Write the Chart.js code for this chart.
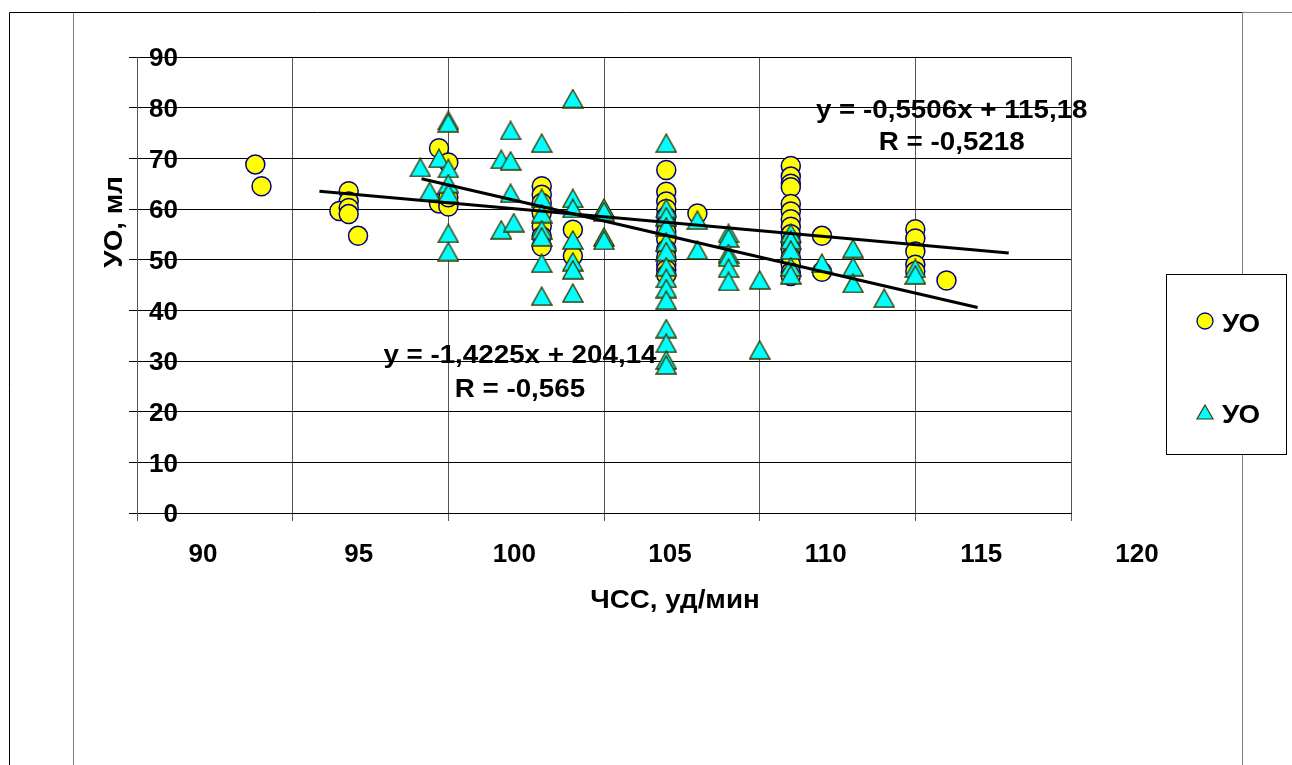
<!DOCTYPE html>
<html lang="ru">
<head>
<meta charset="utf-8">
<title>УО и ЧСС</title>
<script src="https://cdn.jsdelivr.net/npm/chart.js@4.4.1/dist/chart.umd.min.js"></script>
<style>
  html, body { margin: 0; padding: 0; background: #fff; }
  #wrap { width: 1292px; height: 765px; position: relative; }
</style>
</head>
<body>
<div id="wrap"><canvas id="svChart"></canvas></div>
<script>
// первая серия (кружки): ЧСС, уд/мин и УО, мл
const hrCircles = [
  91.8, 92.0,
  94.8, 94.8, 94.5, 94.8, 94.8, 95.1,
  97.7, 98.0, 97.7, 98.0, 98.0,
  101, 101, 101, 101, 101, 101, 101,
  102, 102,
  105, 105, 105, 105, 105, 105, 105, 105, 105, 105, 105, 105, 105,
  106,
  109, 109, 109, 109, 109, 109, 109, 109, 109, 109, 109, 109, 109, 109, 109,
  110, 110,
  113, 113, 113, 113, 113,
  114
];
const svCircles = [
  68.8, 64.5,
  63.5, 61.5, 59.6, 60.2, 59.0, 54.7,
  72.0, 69.2, 61.1, 60.5, 62.3,
  64.5, 62.8, 61.2, 59.2, 56.6, 54.6, 52.6,
  55.9, 50.7,
  67.7, 63.4, 61.5, 60.0, 58.5, 57.0, 55.5, 54.0, 52.0, 50.5, 49.0, 48.0, 47.0,
  59.1,
  68.5, 66.4, 65.0, 64.3, 61.0, 59.5, 58.0, 56.5, 55.0, 53.5, 52.0, 50.5, 49.0, 47.5, 46.8,
  54.7, 47.6,
  56.0, 54.2, 51.6, 49.0, 47.7,
  45.9
];

// вторая серия (треугольники)
const hrTriangles = [
  97.1, 97.7, 98, 98, 98, 98, 97.4, 98, 98, 98,
  99.7, 100, 100, 100, 99.7, 100.1,
  101, 101, 101, 101, 101, 101, 101,
  102, 102, 102, 102, 102, 102, 102,
  103, 103, 103, 103,
  105, 105, 105, 105, 105, 105, 105, 105, 105, 105, 105, 105, 105, 105,
  106, 106,
  107, 107, 107, 107, 107, 107,
  108, 108,
  109, 109, 109, 109, 109,
  110,
  111, 111, 111,
  112,
  113, 113
];
const svTriangles = [
  68.2, 70.0, 77.5, 77.0, 68.0, 65.0, 63.5, 63.1, 55.2, 51.6,
  69.8, 69.5, 75.5, 63.1, 55.9, 57.3,
  73.0, 62.1, 59.1, 55.9, 54.5, 49.3, 42.8,
  81.8, 62.1, 60.1, 53.9, 49.6, 48.0, 43.4,
  60.2, 59.5, 54.5, 53.8,
  73.0, 60.1, 58.5, 56.5, 53.5, 51.6, 48.6, 46.3, 44.3, 42.0, 36.4, 33.5, 30.2, 29.2,
  57.8, 51.9,
  55.2, 54.3, 51.2, 50.5, 48.3, 45.7,
  46.0, 32.2,
  55.2, 53.9, 51.9, 48.6, 47.0,
  49.3,
  52.2, 48.6, 45.3,
  42.4,
  48.3, 47.0
];

const seriesNames = ['УО', 'УО'];

// линейные тренды: y = k·x + b, отрезок по ЧСС
const trendSlopes = [-0.5506, -1.4225];
const trendIntercepts = [115.18, 204.14];
const trendFrom = [93.86, 97.14];
const trendTo = [116.0, 115.0];
const trendEquations = ['y = -0,5506x + 115,18', 'y = -1,4225x + 204,14'];
const trendR = ['R = -0,5218', 'R = -0,565'];

// оси
const xTickValues = [88, 93, 98, 103, 108, 113, 118];
const xTickLabels = ['90', '95', '100', '105', '110', '115', '120'];
const yMin = 0, yMax = 90, yStep = 10;

const FONT = '"Liberation Sans", Arial, sans-serif';

function toPoints(xs, ys) {
  return xs.map((x, i) => ({ x: x, y: ys[i] }));
}

function trendPoints(i) {
  return [trendFrom[i], trendTo[i]].map(x => ({ x: x, y: trendSlopes[i] * x + trendIntercepts[i] }));
}

// треугольный маркер в стиле Excel (центр по габариту)
function makeTriangle(w, h, lw) {
  const c = document.createElement('canvas');
  c.width = w + 2;
  c.height = h + 2;
  const g = c.getContext('2d');
  g.beginPath();
  g.moveTo(c.width / 2, 1);
  g.lineTo(w + 1, h + 1);
  g.lineTo(1, h + 1);
  g.closePath();
  g.fillStyle = '#00ffff';
  g.fill();
  g.lineWidth = lw;
  g.strokeStyle = '#3a3a00';
  g.stroke();
  return c;
}
const triMarker = makeTriangle(20, 18, 1.4);
const triLegend = makeTriangle(16, 14, 1.2);

// текст с лёгким растяжением по горизонтали
function wideText(ctx, text, x, y, align, sx) {
  ctx.save();
  ctx.translate(x, y);
  ctx.scale(sx, 1);
  ctx.textAlign = align;
  ctx.fillText(text, 0, 0);
  ctx.restore();
}

const decor = {
  id: 'decor',
  beforeDraw(chart) {
    const ctx = chart.ctx;
    ctx.save();
    ctx.fillStyle = '#fff';
    ctx.fillRect(0, 0, chart.width, chart.height);
    ctx.lineWidth = 1;
    ctx.strokeStyle = '#000';
    ctx.beginPath();
    ctx.moveTo(9.5, chart.height);
    ctx.lineTo(9.5, 12.5);
    ctx.lineTo(1242, 12.5);
    ctx.stroke();
    ctx.strokeStyle = '#808080';
    ctx.beginPath();
    ctx.moveTo(1242, 12.5);
    ctx.lineTo(chart.width, 12.5);
    ctx.moveTo(73.5, 13);
    ctx.lineTo(73.5, chart.height);
    ctx.moveTo(1242.5, 13);
    ctx.lineTo(1242.5, chart.height);
    ctx.stroke();
    ctx.restore();
  },
  afterDraw(chart) {
    const ctx = chart.ctx;
    const xs = chart.scales.x, ys = chart.scales.y;
    ctx.save();
    ctx.fillStyle = '#000';
    ctx.font = 'bold 25px ' + FONT;
    ctx.textBaseline = 'alphabetic';

    // подписи трендов
    const anchors = [{ x: 114.17, y1: 77.96, y2: 71.6 }, { x: 100.3, y1: 29.6, y2: 22.9 }];
    anchors.forEach((a, i) => {
      const px = xs.getPixelForValue(a.x);
      wideText(ctx, trendEquations[i], px, ys.getPixelForValue(a.y1), 'center', 1.11);
      wideText(ctx, trendR[i], px, ys.getPixelForValue(a.y2), 'center', 1.11);
    });

    // названия осей
    wideText(ctx, 'ЧСС, уд/мин', chart.chartArea.left + 538, 608, 'center', 1.11);
    ctx.save();
    ctx.translate(122, 222);
    ctx.rotate(-Math.PI / 2);
    wideText(ctx, 'УО, мл', 0, 0, 'center', 1.11);
    ctx.restore();

    // легенда
    const lx = 1166.5, ly = 274.5, lw = 120, lh = 180;
    ctx.fillStyle = '#fff';
    ctx.fillRect(lx, ly, lw, lh);
    ctx.strokeStyle = '#000';
    ctx.lineWidth = 1;
    ctx.strokeRect(lx, ly, lw, lh);
    ctx.fillStyle = '#000';
    const rows = [321, 412];
    chart.data.datasets.slice(0, 2).forEach((ds, i) => {
      const cy = rows[i];
      if (ds.pointStyle === 'circle') {
        ctx.beginPath();
        ctx.arc(1205, cy, 8, 0, Math.PI * 2);
        ctx.fillStyle = ds.backgroundColor;
        ctx.fill();
        ctx.lineWidth = 1.3;
        ctx.strokeStyle = ds.borderColor;
        ctx.stroke();
      } else {
        ctx.drawImage(triLegend, 1205 - triLegend.width / 2, cy - triLegend.height / 2);
      }
      ctx.fillStyle = '#000';
      wideText(ctx, ds.label, 1222, cy + 11, 'left', 1.11);
    });
    ctx.restore();
  }
};

new Chart(document.getElementById('svChart'), {
  type: 'scatter',
  data: {
    datasets: [
      {
        label: seriesNames[0],
        data: toPoints(hrCircles, svCircles),
        pointStyle: 'circle',
        pointRadius: 9.5,
        backgroundColor: '#ffff00',
        borderColor: '#000080',
        borderWidth: 1.5,
        order: 2
      },
      {
        label: seriesNames[1],
        data: toPoints(hrTriangles, svTriangles),
        pointStyle: triMarker,
        pointRadius: 10,
        backgroundColor: '#00ffff',
        borderColor: '#3a3a00',
        order: 1
      },
      {
        type: 'line',
        label: 'trend1',
        data: trendPoints(0),
        borderColor: '#000',
        borderWidth: 3,
        pointRadius: 0,
        fill: false,
        order: 0
      },
      {
        type: 'line',
        label: 'trend2',
        data: trendPoints(1),
        borderColor: '#000',
        borderWidth: 3,
        pointRadius: 0,
        fill: false,
        order: 0
      }
    ]
  },
  options: {
    responsive: true,
    maintainAspectRatio: false,
    animation: false,
    events: [],
    layout: { padding: { left: 128, top: 57, right: 221, bottom: 192 } },
    plugins: {
      legend: { display: false },
      tooltip: { enabled: false }
    },
    scales: {
      x: {
        type: 'linear',
        min: xTickValues[0],
        max: xTickValues[xTickValues.length - 1],
        afterBuildTicks: s => { s.ticks = xTickValues.map(v => ({ value: v })); },
        afterFit: s => { s.height = 60; },
        grid: { color: '#555', lineWidth: 1, tickLength: 8, drawTicks: true },
        border: { color: '#000', width: 1 },
        ticks: {
          color: '#000',
          font: { family: FONT, size: 26, weight: 'bold' },
          padding: 18,
          labelOffset: 66,
          maxRotation: 0,
          autoSkip: false,
          callback: (v, i) => xTickLabels[i]
        }
      },
      y: {
        min: yMin,
        max: yMax,
        afterFit: s => { s.width = 9; },
        grid: { color: '#000', lineWidth: 1, tickLength: 8 },
        border: { color: '#555', width: 1 },
        ticks: {
          stepSize: yStep,
          color: '#000',
          mirror: true,
          crossAlign: 'far',
          padding: 12,
          labelOffset: 2,
          font: { family: FONT, size: 26, weight: 'bold' }
        }
      }
    }
  },
  plugins: [decor]
});
</script>
</body>
</html>
